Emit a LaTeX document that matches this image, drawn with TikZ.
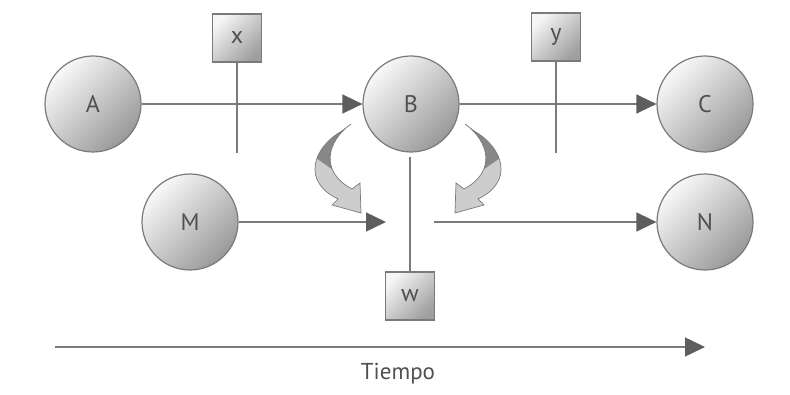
\documentclass[tikz,border=0pt]{standalone}
\usepackage{fontspec}
\setmainfont{PT Sans}
\usetikzlibrary{arrows.meta}
\definecolor{linegray}{HTML}{7A7A7A}
\definecolor{tipgray}{HTML}{5E5E5E}
\definecolor{textgray}{HTML}{505050}
\definecolor{ribbondark}{HTML}{878787}
\definecolor{ribbonlight}{HTML}{CDCDCD}
\begin{document}
\begin{tikzpicture}[x=1pt,y=-1pt,
  ball/.style={circle,draw=linegray,line width=1.2pt,minimum size=96pt,inner sep=0pt,
    top color=gray!5,bottom color=gray!80,shading angle=45,text=textgray,font=\fontsize{24}{28}\selectfont},
  tag/.style={draw=linegray,line width=1.2pt,minimum width=49pt,minimum height=48pt,inner sep=0pt,
    top color=gray!8,bottom color=gray!75,shading angle=45,text=textgray,font=\fontsize{24}{28}\selectfont},
  flow/.style={draw=linegray,line width=1.4pt,-{Triangle[length=20pt,width=19pt,color=tipgray]}},
  bar/.style={draw=linegray,line width=1.4pt}]
\useasboundingbox (0,0) rectangle (790,395);

\node[ball] (a) at (93,104) {A};
\node[ball] (b) at (411,104) {B};
\node[ball] (c) at (705,104) {C};
\node[ball] (m) at (190,222) {M};
\node[ball] (n) at (705,222) {N};
\node[tag] (x) at (237,38) {x};
\node[tag] (y) at (556,37) {y};
\node[tag] (w) at (410,296) {w};

\coordinate (xfoot) at (237,153);
\coordinate (yfoot) at (557,153);
\coordinate (wtop) at (410,157);
\coordinate (mend) at (386,222);
\coordinate (nstart) at (434,222);
\coordinate (t0) at (55,347);
\coordinate (t1) at (705,347);

\draw[flow] (a) -- (b);
\draw[flow] (b) -- (c);
\draw[flow] (m) -- (mend);
\draw[flow] (nstart) -- (n);
\draw[bar] (x) -- (xfoot);
\draw[bar] (y) -- (y |- yfoot);
\draw[bar] (wtop) -- (w);
\draw[flow] (t0) -- (t1);
\node[text=textgray,font=\fontsize{23}{28}\selectfont] (tiempo) at (398,374) {Tiempo};

% bent arrows under B
\foreach \s/\o in {1/0,-1/816}{
  \begin{scope}[xshift=\o,xscale=\s]
    \def\ribbon{(351,124) -- (342,131) .. controls (312,148) and (302,182) .. (338,199)
      -- (332,205) -- (361,213) -- (360,183) -- (352,189)
      .. controls (320,172) and (326,142) .. (351,124) -- cycle}
    \fill[ribbonlight] \ribbon;
    \begin{scope}
      \clip \ribbon;
      \fill[ribbondark] (290,100) -- (380,100) -- (380,160) -- (336,172) -- (316,158) -- (290,135) -- cycle;
    \end{scope}
    \draw[linegray,line width=0.7pt] \ribbon;
  \end{scope}
}
\end{tikzpicture}
\end{document}
